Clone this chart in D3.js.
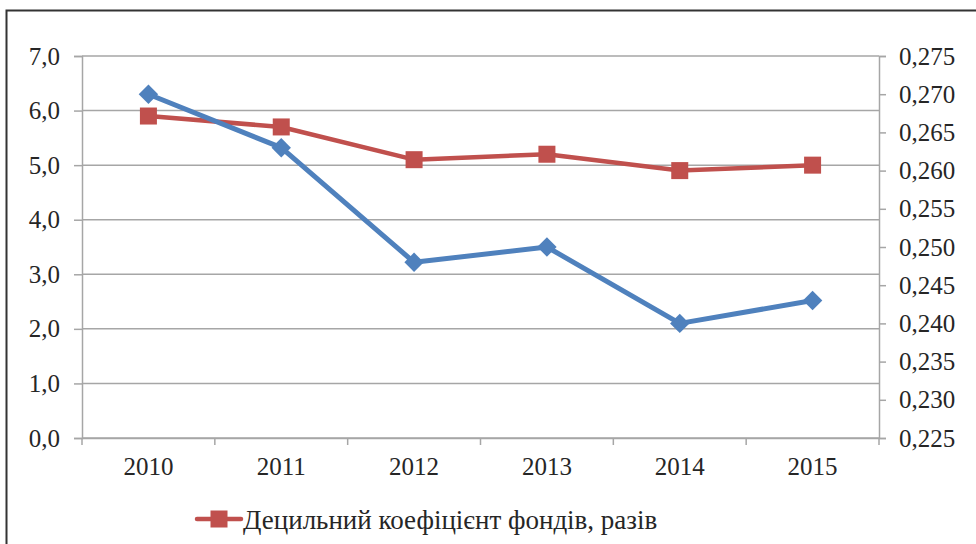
<!DOCTYPE html>
<html>
<head>
<meta charset="utf-8">
<script src="https://cdn.jsdelivr.net/npm/d3@7"></script>
<style>
body { margin: 0; background: #fff; }
svg text { font-family: "Liberation Serif", "Times New Roman", serif; fill: #262626; }
</style>
</head>
<body>
<script>
// data
var years = ["2010", "2011", "2012", "2013", "2014", "2015"];
var decile = [5.9, 5.7, 5.1, 5.2, 4.9, 5.0];          // left axis, red
var gini = [0.270, 0.263, 0.248, 0.250, 0.240, 0.243]; // right axis, blue
var leftTicks = [0, 1, 2, 3, 4, 5, 6, 7];
var rightTicks = [0.225, 0.230, 0.235, 0.240, 0.245, 0.250, 0.255, 0.260, 0.265, 0.270, 0.275];
var legendLabel = "Децильний коефіцієнт фондів, разів";

var W = 976, H = 544;
var x0 = 82, x1 = 879, yTop = 56, yBot = 438;
var red = "#C0504D", blue = "#4F81BD", grid = "#A6A6A6";

var svg = d3.select("body").append("svg")
	.attr("width", W)
	.attr("height", H);

// frame (only top and left visible)
svg.append("path")
	.attr("d", "M6.5," + H + "V10.5H" + W)
	.attr("fill", "none")
	.attr("stroke", "#333")
	.attr("stroke-width", 2);

var x = d3.scaleBand().domain(years).range([x0, x1]);
var yL = d3.scaleLinear().domain([0, 7]).range([yBot, yTop]);
var yR = d3.scaleLinear().domain([0.225, 0.275]).range([yBot, yTop]);
var fmt = function(d, n){ return d.toFixed(n).replace(".", ","); };

// gridlines
svg.append("g").selectAll("line")
	.data(leftTicks)
	.enter().append("line")
	.attr("x1", x0).attr("x2", x1)
	.attr("y1", d => yL(d)).attr("y2", d => yL(d))
	.attr("stroke", grid)
	.attr("stroke-width", 1.5);

// left axis
var gl = svg.append("g")
	.attr("transform", "translate(" + x0 + ",0)")
	.call(d3.axisLeft(yL).tickValues(leftTicks).tickSize(8).tickPadding(14).tickFormat(d => fmt(d, 1)));

// right axis
var gr = svg.append("g")
	.attr("transform", "translate(" + x1 + ",0)")
	.call(d3.axisRight(yR).tickValues(rightTicks).tickSize(7).tickPadding(13).tickFormat(d => fmt(d, 3)));

// bottom axis
var gb = svg.append("g")
	.attr("transform", "translate(0," + yBot + ")")
	.call(d3.axisBottom(x).tickSize(0).tickPadding(19));

gb.selectAll(".tick").append("line")
	.attr("x1", -x.bandwidth() / 2).attr("x2", -x.bandwidth() / 2)
	.attr("y1", 0).attr("y2", 7)
	.attr("stroke", grid).attr("stroke-width", 1.5);
gb.append("line")
	.attr("x1", x1).attr("x2", x1).attr("y1", 0).attr("y2", 7)
	.attr("stroke", grid).attr("stroke-width", 1.5);

[gl, gr, gb].forEach(function(g){
	g.attr("font-family", null);
	g.selectAll(".domain").attr("stroke", grid).attr("stroke-width", 1.5);
	g.selectAll(".tick line").attr("stroke", grid).attr("stroke-width", 1.5);
	g.selectAll("text").attr("font-size", 25).attr("fill", "#262626")
		.style("font-family", "'Liberation Serif', serif");
});
gb.select(".domain").attr("d", "M" + x0 + ",0.5H" + x1);

var cx = d => x(d) + x.bandwidth() / 2;

// red series
svg.append("path")
	.datum(years)
	.attr("fill", "none")
	.attr("stroke", red)
	.attr("stroke-width", 4.5)
	.attr("stroke-linejoin", "round")
	.attr("d", d3.line().x(cx).y((d, i) => yL(decile[i])));

svg.append("g").selectAll("rect")
	.data(years)
	.enter().append("rect")
	.attr("x", d => cx(d) - 8.5)
	.attr("y", (d, i) => yL(decile[i]) - 8.5)
	.attr("width", 17).attr("height", 17)
	.attr("fill", red);

// blue series
svg.append("path")
	.datum(years)
	.attr("fill", "none")
	.attr("stroke", blue)
	.attr("stroke-width", 5)
	.attr("stroke-linejoin", "round")
	.attr("d", d3.line().x(cx).y((d, i) => yR(gini[i])));

svg.append("g").selectAll("path")
	.data(years)
	.enter().append("path")
	.attr("d", d3.symbol().type(d3.symbolDiamond2).size(240))
	.attr("transform", (d, i) => "translate(" + cx(d) + "," + yR(gini[i]) + ")")
	.attr("fill", blue);

// legend
var lg = svg.append("g").attr("transform", "translate(197,519)");
lg.append("line").attr("x1", 0).attr("x2", 44)
	.attr("stroke", red).attr("stroke-width", 4.5).attr("stroke-linecap", "round");
lg.append("rect").attr("x", 13.5).attr("y", -8.5).attr("width", 17).attr("height", 17).attr("fill", red);
lg.append("text").attr("x", 46).attr("y", 10)
	.attr("font-size", 27)
	.style("font-family", "'Liberation Serif', serif")
	.text(legendLabel);
</script>
</body>
</html>
